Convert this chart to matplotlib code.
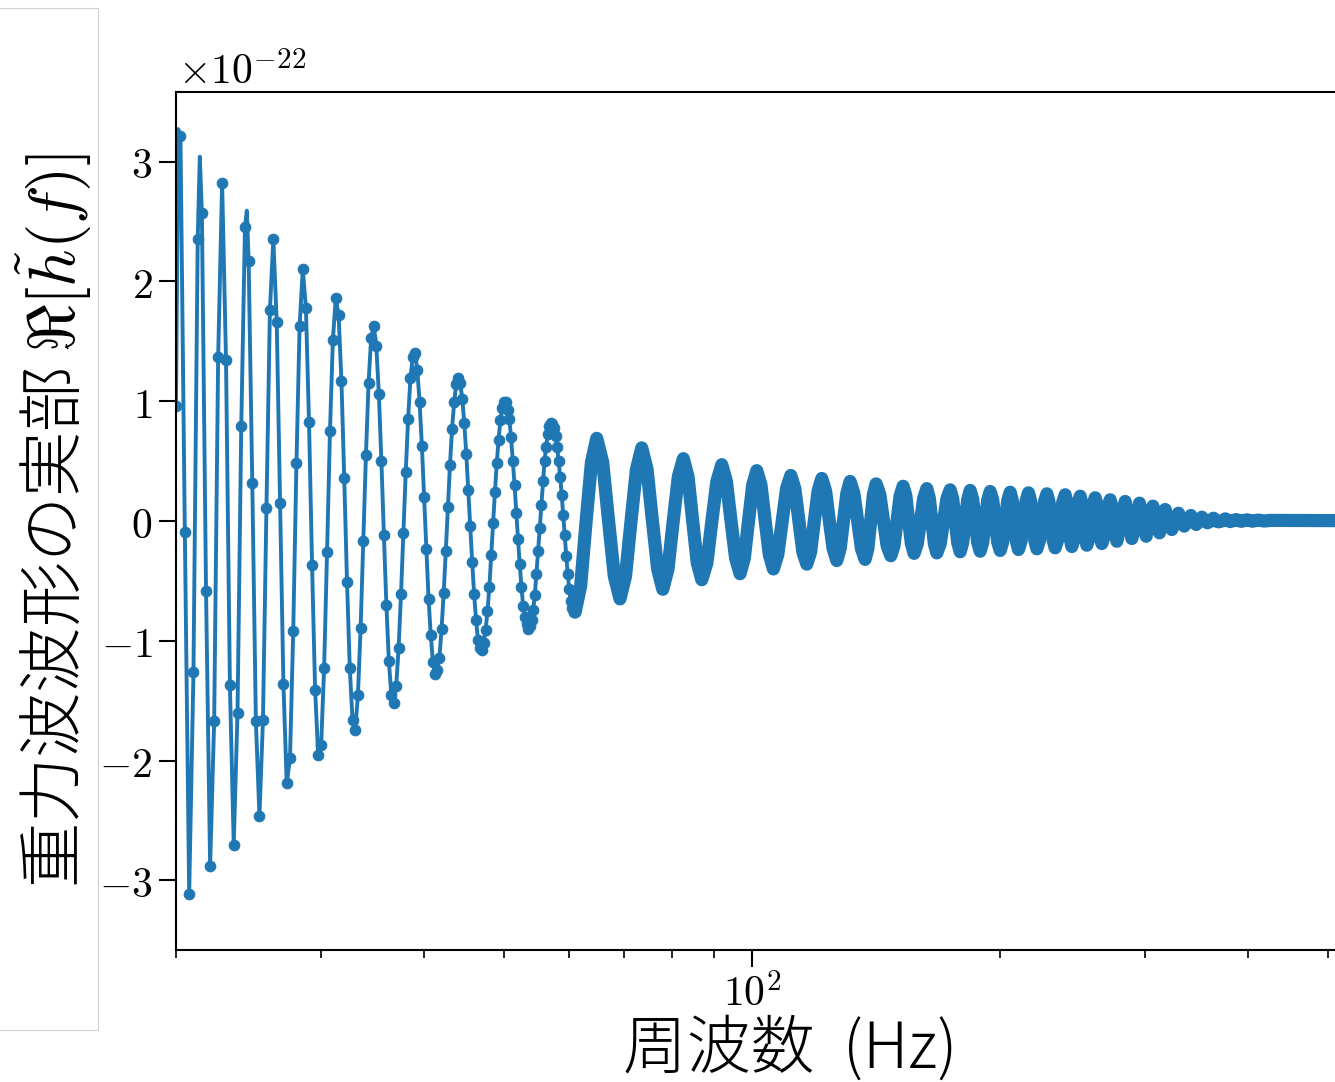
import numpy as np
import matplotlib.pyplot as plt
from matplotlib.ticker import FixedLocator, FuncFormatter, NullFormatter, LogLocator
from matplotlib.patches import Rectangle

plt.rcParams['mathtext.fontset'] = 'cm'

# Real part of the frequency-domain waveform, in units of 1e-22.
# Sparse part: samples every 0.25 Hz, drawn as dots joined by a line.
f_dots = np.arange(20.0, 61.01, 0.25)
h_dots = [
    0.96, 3.21, -0.09, -3.11, -1.26, 2.35, 2.57, -0.58,       # 20.0 - 21.75
    -2.88, -1.67, 1.37, 2.82, 1.34, -1.37, -2.70, -1.60,      # 22.0 - 23.75
    0.79, 2.45, 2.17, 0.32, -1.67, -2.46, -1.66, 0.11,        # 24.0 - 25.75
    1.76, 2.35, 1.66, 0.15, -1.36, -2.19, -1.98, -0.92,       # 26.0 - 27.75
    0.48, 1.63, 2.10, 1.78, 0.83, -0.37, -1.41, -1.95,        # 28.0 - 29.75
    -1.87, -1.23, -0.26, 0.75, 1.51, 1.86, 1.72, 1.17,        # 30.0 - 31.75
    0.36, -0.51, -1.23, -1.66, -1.74, -1.45, -0.89, -0.17,    # 32.0 - 33.75
    0.55, 1.15, 1.53, 1.63, 1.46, 1.06, 0.50, -0.12,          # 34.0 - 35.75
    -0.70, -1.17, -1.45, -1.52, -1.38, -1.06, -0.61, -0.10,   # 36.0 - 37.75
    0.41, 0.85, 1.19, 1.37, 1.40, 1.26, 0.99, 0.63,           # 38.0 - 39.75
    0.20, -0.23, -0.65, -0.95, -1.18, -1.28, -1.24, -1.14,    # 40.0 - 41.75
    -0.90, -0.60, -0.25, 0.12, 0.47, 0.77, 0.99, 1.14,        # 42.0 - 43.75
    1.19, 1.15, 1.02, 0.82, 0.56, 0.26, -0.04, -0.34,         # 44.0 - 45.75
    -0.61, -0.83, -0.99, -1.06, -1.08, -1.02, -0.91, -0.75,   # 46.0 - 47.75
    -0.55, -0.28, -0.02, 0.24, 0.48, 0.68, 0.84, 0.94,        # 48.0 - 49.75
    0.99, 0.99, 0.93, 0.85, 0.70, 0.50, 0.30, 0.07,           # 50.0 - 51.75
    -0.15, -0.36, -0.55, -0.71, -0.80, -0.86, -0.90, -0.88,   # 52.0 - 53.75
    -0.83, -0.74, -0.62, -0.44, -0.25, -0.06, 0.13, 0.33,     # 54.0 - 55.75
    0.50, 0.62, 0.73, 0.79, 0.82, 0.81, 0.78, 0.71,           # 56.0 - 57.75
    0.62, 0.50, 0.37, 0.22, 0.05, -0.12, -0.29, -0.44,        # 58.0 - 59.75
    -0.57, -0.67, -0.73, -0.76, -0.75,                        # 60.0 - 61.0
]

# where the line peaks between two dots
f_tips = [20.125, 21.375, 24.375]
h_tips = [3.27, 3.04, 2.59]

# Dense part: dots overlap into a thick band (centre line of the band)
f_band = [
    61.0, 61.95, 62.90, 63.84, 64.79, 65.88, 66.97, 68.05,
    69.14, 70.22, 71.31, 72.39, 73.47, 74.58, 75.70, 76.81,
    77.92, 79.07, 80.23, 81.38, 82.53, 83.62, 84.71, 85.80,
    86.89, 88.14, 89.38, 90.63, 91.88, 93.08, 94.29, 95.50,
    96.70, 97.86, 99.01, 100.17, 101.32, 102.52, 103.73, 104.93,
    106.13, 107.45, 108.78, 110.10, 111.42, 112.69, 113.97, 115.24,
    116.51, 117.76, 119.0, 120.25, 121.50, 122.80, 124.10, 125.40,
    126.70, 127.90, 129.10, 130.30, 131.50, 132.91, 134.32, 135.73,
    137.13, 138.20, 139.27, 140.34, 141.41, 142.90, 144.38, 145.86,
    147.34, 148.63, 149.92, 151.21, 152.49, 153.68, 154.87, 156.06,
    157.25, 158.67, 160.09, 161.51, 162.93, 164.09, 165.24, 166.40,
    167.55, 169.15, 170.74, 172.33, 173.92, 175.16, 176.39, 177.62,
    178.85, 180.12, 181.39, 182.66, 183.92, 185.23, 186.53, 187.83,
    189.13, 190.47, 191.81, 193.15, 194.49, 195.87, 197.25, 198.63,
    200.0, 201.42, 202.84, 204.26, 205.67, 206.88, 208.08, 209.29,
    210.49, 211.99, 213.48, 214.97, 216.46, 217.75, 219.03, 220.32,
    221.60, 223.17, 224.74, 226.31, 227.88, 229.21, 230.54, 231.87,
    233.20, 234.85, 236.50, 238.15, 239.80, 240.94, 242.07, 243.21,
    244.34, 245.78, 247.21, 248.64, 250.07, 251.26, 252.44, 253.62,
    254.80, 256.30, 257.79, 259.29, 260.78, 262.01, 263.24, 264.47,
    265.70, 267.26, 268.82, 270.38, 271.94, 273.23, 274.51, 277.07,
    280.33, 283.58, 286.26, 288.93, 292.04, 295.14, 297.93, 300.71,
    303.56, 306.40, 309.25, 312.10, 314.61, 317.11, 320.11, 323.10,
    326.12, 329.13, 331.77, 334.41, 337.58, 340.74, 343.28, 345.82,
    348.60, 351.37, 354.14, 356.91, 359.93, 362.95, 365.51, 368.06,
    371.54, 375.01, 380.27, 386.70, 392.14, 398.77, 404.38, 411.22,
    418.17, 425.30, 520.0,
]
h_band = [
    -0.76, -0.54, 0, 0.49, 0.69, 0.49, 0, -0.46,
    -0.65, -0.46, 0, 0.43, 0.61, 0.43, 0, -0.40,
    -0.57, -0.40, 0, 0.37, 0.52, 0.37, 0, -0.35,
    -0.49, -0.35, 0, 0.33, 0.47, 0.33, 0, -0.31,
    -0.44, -0.31, 0, 0.30, 0.42, 0.30, 0, -0.28,
    -0.40, -0.28, 0, 0.27, 0.38, 0.27, 0, -0.26,
    -0.36, -0.26, 0, 0.25, 0.355, 0.25, 0, -0.23,
    -0.33, -0.23, 0, 0.23, 0.33, 0.23, 0, -0.23,
    -0.32, -0.23, 0, 0.22, 0.31, 0.22, 0, -0.21,
    -0.29, -0.21, 0, 0.21, 0.29, 0.21, 0, -0.19,
    -0.27, -0.19, 0, 0.19, 0.27, 0.19, 0, -0.19,
    -0.266, -0.19, 0, 0.185, 0.26, 0.185, 0, -0.18,
    -0.257, -0.18, 0, 0.18, 0.255, 0.18, 0, -0.18,
    -0.252, -0.18, 0, 0.175, 0.246, 0.175, 0, -0.175,
    -0.246, -0.175, 0, 0.17, 0.24, 0.17, 0, -0.17,
    -0.238, -0.17, 0, 0.167, 0.235, 0.167, 0, -0.165,
    -0.232, -0.165, 0, 0.16, 0.227, 0.16, 0, -0.16,
    -0.224, -0.16, 0, 0.155, 0.219, 0.155, 0, -0.15,
    -0.213, -0.15, 0, 0.147, 0.207, 0.147, 0, -0.143,
    -0.202, -0.143, 0, 0.138, 0.194, 0.138, 0, -0.133,
    -0.188, -0.133, 0, 0.126, 0.177, 0.126, 0, -0.169,
    0, 0.163, 0, -0.146, 0, 0.149, 0, -0.127,
    0, 0.124, 0, -0.099, 0, 0.096, 0, -0.071,
    0, 0.065, 0, -0.043, 0, 0.046, 0, -0.029,
    0, 0.032, 0, -0.015, 0, 0.023, 0, -0.007,
    0, 0.018, -0.005, 0.012, -0.003, 0.010, -0.002, 0.008,
    0.0, 0.005, 0.003,
]
assert len(h_dots) == len(f_dots) and len(h_band) == len(f_band)

y_ticks = [-3, -2, -1, 0, 1, 2, 3]

# line goes through the dots plus the extra tips
f_line = np.concatenate([f_dots, f_tips])
h_line = np.concatenate([h_dots, h_tips])
order = np.argsort(f_line)
f_line, h_line = f_line[order], h_line[order]

W, H = 1335, 1082
fig = plt.figure(figsize=(W / 100, H / 100), dpi=100)
ax = fig.add_axes([176 / W, 1 - 950 / H, 1228 / W, 858 / H])

blue = '#1f77b4'
ax.plot(f_line, h_line, color=blue, lw=2.8)
ax.plot(f_dots, h_dots, 'o', color=blue, ms=7.6, mew=0.8)
ax.plot(f_band, h_band, color=blue, lw=9.5,
        solid_joinstyle='round', solid_capstyle='round')

ax.set_xscale('log')
ax.set_xlim(20, 618)
ax.set_ylim(-3.58, 3.58)

ax.yaxis.set_major_locator(FixedLocator(y_ticks))
ax.yaxis.set_major_formatter(FuncFormatter(lambda v, p: r'$%d$' % round(v)))
ax.xaxis.set_major_locator(LogLocator(base=10))
ax.xaxis.set_major_formatter(FuncFormatter(lambda v, p: r'$10^{%d}$' % round(np.log10(v))))
ax.xaxis.set_minor_locator(LogLocator(base=10, subs=np.arange(2, 10)))
ax.xaxis.set_minor_formatter(NullFormatter())

ax.tick_params(which='major', length=12, width=1.5, labelsize=30, pad=5)
ax.tick_params(which='minor', length=6, width=1.2)
for s in ax.spines.values():
    s.set_linewidth(1.5)

# scale factor of the y axis
fig.text(178 / W, 1 - 85 / H, r'$\times10^{-22}$', fontsize=30, va='baseline')

fig.text(54 / W, 1 - 521 / H, '重力波波形の実部 $\\Re[\\tilde{h}(f)]$',
         family='Noto Sans CJK JP', fontweight='light', fontsize=47,
         rotation=90, ha='center', va='center')
fig.text(790 / W, 1 - 1068 / H, '周波数  (Hz)', family='Noto Sans CJK JP',
         fontweight='light', fontsize=46, ha='center', va='baseline')

# thin grey frame on the left
fig.add_artist(Rectangle((-5 / W, 1 - 1030 / H), 103 / W, 1022 / H,
                         transform=fig.transFigure, fill=False,
                         edgecolor='#d0d0d0', lw=0.8))

fig.savefig('out.png', dpi=100)
